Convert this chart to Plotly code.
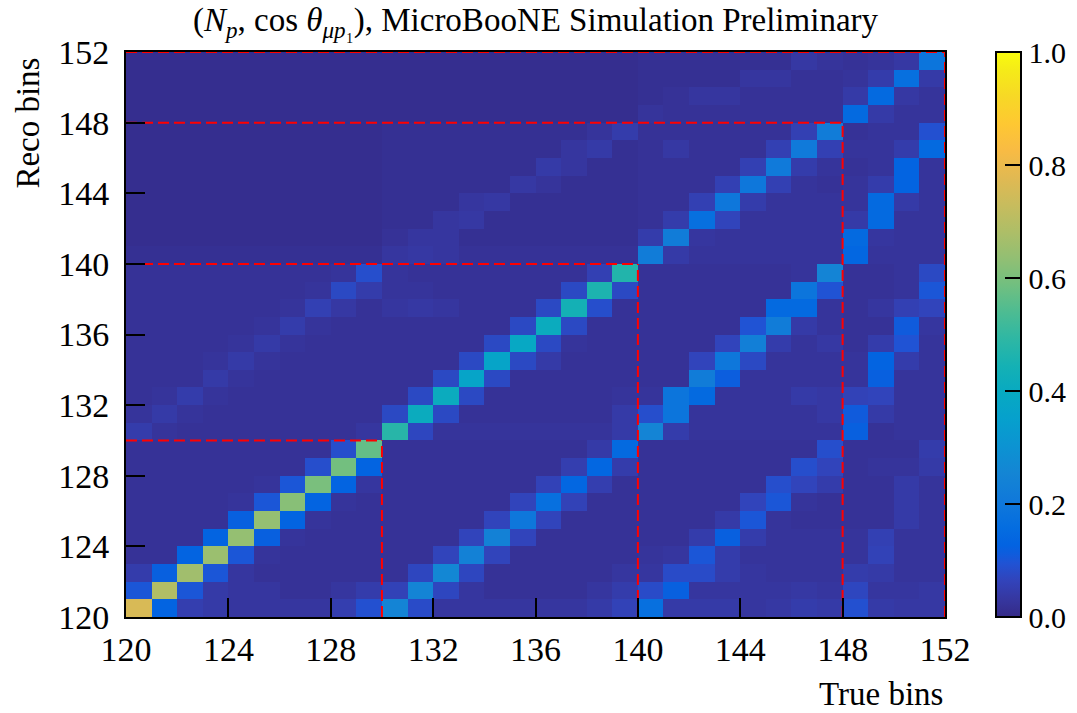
import plotly.graph_objects as go

# Bin edges along both axes (true and reco)
bin_edges = list(range(120, 153))
tick_values = list(range(120, 153, 4))
cbar_ticks = [0.0, 0.2, 0.4, 0.6, 0.8, 1.0]
cbar_labels = ["0.0", "0.2", "0.4", "0.6", "0.8", "1.0"]

# Block boundaries of the (N_p, cos theta) binning
block_edges = [130, 140, 148, 152]

# Migration matrix rows, grouped by reco block; each row lists true bins 120..151
reco_block1 = [  # reco bins 120-129
    [0.76, 0.13, 0.05, 0.04, 0.03, 0.03, 0.03, 0.03, 0.05, 0.09, 0.25, 0.08, 0.03, 0.03, 0.03, 0.03,
     0.03, 0.03, 0.04, 0.06, 0.17, 0.04, 0.04, 0.04, 0.03, 0.035, 0.045, 0.04, 0.09, 0.04, 0.035, 0.035],
    [0.10, 0.69, 0.10, 0.04, 0.03, 0.03, 0.02, 0.02, 0.03, 0.045, 0.06, 0.25, 0.07, 0.03, 0.02, 0.02,
     0.02, 0.02, 0.03, 0.045, 0.08, 0.12, 0.03, 0.03, 0.03, 0.03, 0.035, 0.03, 0.07, 0.03, 0.03, 0.035],
    [0.045, 0.12, 0.66, 0.10, 0.03, 0.02, 0.02, 0.02, 0.02, 0.02, 0.02, 0.07, 0.26, 0.07, 0.02, 0.02,
     0.02, 0.02, 0.02, 0.03, 0.03, 0.08, 0.08, 0.045, 0.03, 0.025, 0.025, 0.025, 0.045, 0.04, 0.025, 0.025],
    [0.02, 0.02, 0.13, 0.65, 0.10, 0.025, 0.02, 0.02, 0.02, 0.02, 0.02, 0.02, 0.065, 0.24, 0.065, 0.02,
     0.02, 0.02, 0.02, 0.02, 0.025, 0.03, 0.10, 0.045, 0.025, 0.025, 0.025, 0.025, 0.025, 0.06, 0.025, 0.025],
    [0.02, 0.02, 0.02, 0.13, 0.64, 0.12, 0.025, 0.02, 0.02, 0.02, 0.02, 0.02, 0.02, 0.065, 0.24, 0.065,
     0.02, 0.02, 0.02, 0.02, 0.02, 0.02, 0.045, 0.12, 0.045, 0.025, 0.025, 0.025, 0.025, 0.055, 0.025, 0.025],
    [0.02, 0.02, 0.02, 0.02, 0.12, 0.64, 0.13, 0.025, 0.02, 0.02, 0.02, 0.02, 0.02, 0.02, 0.065, 0.20,
     0.065, 0.02, 0.02, 0.02, 0.02, 0.02, 0.02, 0.04, 0.10, 0.025, 0.02, 0.02, 0.02, 0.02, 0.04, 0.025],
    [0.02, 0.02, 0.02, 0.02, 0.025, 0.10, 0.62, 0.13, 0.025, 0.02, 0.02, 0.02, 0.02, 0.02, 0.02, 0.065,
     0.17, 0.06, 0.02, 0.02, 0.02, 0.02, 0.02, 0.02, 0.065, 0.10, 0.025, 0.02, 0.02, 0.02, 0.04, 0.025],
    [0.02, 0.02, 0.02, 0.02, 0.02, 0.025, 0.10, 0.60, 0.13, 0.03, 0.02, 0.02, 0.02, 0.02, 0.02, 0.02,
     0.06, 0.14, 0.05, 0.02, 0.02, 0.02, 0.02, 0.02, 0.02, 0.085, 0.065, 0.045, 0.02, 0.02, 0.04, 0.025],
    [0.02, 0.02, 0.02, 0.02, 0.02, 0.02, 0.02, 0.085, 0.59, 0.13, 0.02, 0.02, 0.02, 0.02, 0.02, 0.02,
     0.02, 0.05, 0.14, 0.045, 0.02, 0.02, 0.02, 0.02, 0.02, 0.02, 0.085, 0.065, 0.02, 0.025, 0.025, 0.04],
    [0.02, 0.02, 0.02, 0.02, 0.02, 0.02, 0.02, 0.02, 0.085, 0.57, 0.02, 0.02, 0.02, 0.02, 0.02, 0.02,
     0.02, 0.02, 0.04, 0.15, 0.02, 0.02, 0.02, 0.02, 0.02, 0.02, 0.02, 0.085, 0.02, 0.02, 0.02, 0.045],
]

reco_block2 = [  # reco bins 130-139
    [0.045, 0.025, 0.02, 0.02, 0.02, 0.02, 0.02, 0.02, 0.02, 0.03, 0.48, 0.07, 0.025, 0.025, 0.025, 0.025,
     0.025, 0.025, 0.025, 0.04, 0.25, 0.045, 0.025, 0.025, 0.025, 0.025, 0.025, 0.025, 0.12, 0.02, 0.025, 0.025],
    [0.025, 0.04, 0.025, 0.02, 0.02, 0.02, 0.02, 0.02, 0.02, 0.02, 0.075, 0.41, 0.075, 0.02, 0.02, 0.02,
     0.02, 0.02, 0.02, 0.04, 0.085, 0.19, 0.025, 0.025, 0.025, 0.025, 0.025, 0.035, 0.11, 0.04, 0.025, 0.025],
    [0.02, 0.025, 0.045, 0.025, 0.02, 0.02, 0.02, 0.02, 0.02, 0.02, 0.02, 0.075, 0.41, 0.075, 0.02, 0.02,
     0.02, 0.02, 0.02, 0.025, 0.025, 0.19, 0.15, 0.025, 0.025, 0.025, 0.04, 0.035, 0.06, 0.065, 0.025, 0.025],
    [0.02, 0.02, 0.02, 0.04, 0.025, 0.02, 0.02, 0.02, 0.02, 0.02, 0.02, 0.02, 0.075, 0.37, 0.075, 0.02,
     0.02, 0.02, 0.02, 0.02, 0.02, 0.02, 0.22, 0.115, 0.025, 0.025, 0.025, 0.025, 0.025, 0.12, 0.025, 0.025],
    [0.02, 0.02, 0.02, 0.025, 0.04, 0.025, 0.02, 0.02, 0.02, 0.02, 0.02, 0.02, 0.02, 0.075, 0.37, 0.075,
     0.04, 0.02, 0.02, 0.02, 0.02, 0.02, 0.065, 0.20, 0.075, 0.025, 0.025, 0.025, 0.025, 0.13, 0.045, 0.025],
    [0.02, 0.02, 0.02, 0.02, 0.025, 0.04, 0.025, 0.02, 0.02, 0.02, 0.02, 0.02, 0.02, 0.02, 0.075, 0.39,
     0.075, 0.025, 0.02, 0.02, 0.02, 0.02, 0.02, 0.065, 0.23, 0.045, 0.025, 0.035, 0.02, 0.045, 0.095, 0.025],
    [0.02, 0.02, 0.02, 0.02, 0.02, 0.025, 0.045, 0.025, 0.02, 0.02, 0.02, 0.02, 0.02, 0.02, 0.02, 0.075,
     0.41, 0.075, 0.02, 0.02, 0.02, 0.02, 0.02, 0.02, 0.095, 0.22, 0.04, 0.025, 0.02, 0.02, 0.11, 0.03],
    [0.02, 0.02, 0.02, 0.02, 0.02, 0.02, 0.025, 0.055, 0.035, 0.02, 0.03, 0.035, 0.03, 0.02, 0.02, 0.02,
     0.075, 0.44, 0.085, 0.02, 0.02, 0.02, 0.02, 0.02, 0.02, 0.15, 0.15, 0.025, 0.02, 0.03, 0.055, 0.065],
    [0.02, 0.02, 0.02, 0.02, 0.02, 0.02, 0.02, 0.025, 0.075, 0.045, 0.025, 0.025, 0.02, 0.02, 0.02, 0.02,
     0.02, 0.075, 0.46, 0.075, 0.02, 0.02, 0.02, 0.02, 0.02, 0.02, 0.19, 0.095, 0.02, 0.02, 0.025, 0.10],
    [0.02, 0.02, 0.02, 0.02, 0.02, 0.02, 0.02, 0.02, 0.025, 0.085, 0.025, 0.02, 0.02, 0.02, 0.02, 0.02,
     0.02, 0.02, 0.055, 0.47, 0.02, 0.02, 0.02, 0.02, 0.02, 0.02, 0.025, 0.25, 0.02, 0.02, 0.025, 0.075],
]

reco_block3 = [  # reco bins 140-147
    [0.015, 0.015, 0.015, 0.015, 0.015, 0.015, 0.015, 0.015, 0.015, 0.015, 0.03, 0.035, 0.03, 0.02, 0.02, 0.02,
     0.02, 0.02, 0.02, 0.02, 0.22, 0.04, 0.025, 0.025, 0.025, 0.025, 0.025, 0.025, 0.14, 0.025, 0.025, 0.025],
    [0.01, 0.01, 0.01, 0.01, 0.01, 0.01, 0.01, 0.01, 0.01, 0.01, 0.02, 0.03, 0.03, 0.015, 0.015, 0.015,
     0.015, 0.015, 0.015, 0.015, 0.045, 0.22, 0.03, 0.025, 0.025, 0.025, 0.025, 0.025, 0.15, 0.03, 0.025, 0.025],
    [0.01, 0.01, 0.01, 0.01, 0.01, 0.01, 0.01, 0.01, 0.01, 0.01, 0.015, 0.015, 0.03, 0.035, 0.015, 0.015,
     0.015, 0.015, 0.015, 0.015, 0.02, 0.045, 0.17, 0.065, 0.025, 0.025, 0.025, 0.025, 0.04, 0.15, 0.025, 0.025],
    [0.01, 0.01, 0.01, 0.01, 0.01, 0.01, 0.01, 0.01, 0.01, 0.01, 0.015, 0.015, 0.015, 0.03, 0.035, 0.015,
     0.015, 0.015, 0.015, 0.015, 0.02, 0.02, 0.055, 0.20, 0.045, 0.025, 0.025, 0.025, 0.025, 0.15, 0.04, 0.025],
    [0.01, 0.01, 0.01, 0.01, 0.01, 0.01, 0.01, 0.01, 0.01, 0.01, 0.015, 0.015, 0.015, 0.015, 0.015, 0.035,
     0.025, 0.015, 0.015, 0.015, 0.02, 0.02, 0.02, 0.055, 0.20, 0.055, 0.025, 0.02, 0.025, 0.045, 0.13, 0.025],
    [0.01, 0.01, 0.01, 0.01, 0.01, 0.01, 0.01, 0.01, 0.01, 0.01, 0.015, 0.015, 0.015, 0.015, 0.015, 0.015,
     0.04, 0.03, 0.015, 0.015, 0.02, 0.02, 0.02, 0.02, 0.055, 0.21, 0.045, 0.025, 0.02, 0.025, 0.13, 0.025],
    [0.01, 0.01, 0.01, 0.01, 0.01, 0.01, 0.01, 0.01, 0.01, 0.01, 0.015, 0.015, 0.015, 0.015, 0.015, 0.015,
     0.015, 0.03, 0.04, 0.015, 0.02, 0.035, 0.02, 0.02, 0.02, 0.055, 0.21, 0.055, 0.025, 0.025, 0.045, 0.15],
    [0.01, 0.01, 0.01, 0.01, 0.01, 0.01, 0.01, 0.01, 0.01, 0.01, 0.015, 0.015, 0.015, 0.015, 0.015, 0.015,
     0.015, 0.015, 0.025, 0.045, 0.02, 0.02, 0.02, 0.02, 0.02, 0.02, 0.055, 0.22, 0.02, 0.025, 0.025, 0.09],
]

reco_block4 = [  # reco bins 148-151
    [0.01, 0.01, 0.01, 0.01, 0.01, 0.01, 0.01, 0.01, 0.01, 0.01, 0.01, 0.01, 0.01, 0.01, 0.01, 0.01,
     0.01, 0.01, 0.01, 0.01, 0.025, 0.02, 0.02, 0.02, 0.02, 0.02, 0.02, 0.02, 0.15, 0.04, 0.025, 0.025],
    [0.01, 0.01, 0.01, 0.01, 0.01, 0.01, 0.01, 0.01, 0.01, 0.01, 0.01, 0.01, 0.01, 0.01, 0.01, 0.01,
     0.01, 0.01, 0.01, 0.01, 0.015, 0.02, 0.03, 0.03, 0.02, 0.02, 0.02, 0.02, 0.04, 0.15, 0.035, 0.025],
    [0.01, 0.01, 0.01, 0.01, 0.01, 0.01, 0.01, 0.01, 0.01, 0.01, 0.01, 0.01, 0.01, 0.01, 0.01, 0.01,
     0.01, 0.01, 0.01, 0.01, 0.015, 0.015, 0.015, 0.015, 0.03, 0.03, 0.02, 0.02, 0.025, 0.045, 0.17, 0.04],
    [0.01, 0.01, 0.01, 0.01, 0.01, 0.01, 0.01, 0.01, 0.01, 0.01, 0.01, 0.01, 0.01, 0.01, 0.01, 0.01,
     0.01, 0.01, 0.01, 0.01, 0.015, 0.015, 0.015, 0.015, 0.015, 0.015, 0.035, 0.025, 0.02, 0.025, 0.035, 0.19],
]

matrix = reco_block1 + reco_block2 + reco_block3 + reco_block4

# Parula-style colour map
parula = [
    (0, (53, 42, 135)), (2, (54, 55, 160)), (4, (50, 67, 186)), (6, (32, 83, 212)),
    (7, (15, 92, 221)), (8, (3, 99, 225)), (10, (4, 109, 224)), (13, (16, 121, 218)),
    (16, (20, 133, 212)), (19, (12, 147, 210)), (22, (6, 160, 205)), (25, (7, 169, 194)),
    (28, (21, 177, 180)), (31, (46, 183, 164)), (34, (77, 188, 146)), (37, (113, 191, 128)),
    (40, (146, 191, 115)), (43, (174, 190, 103)), (46, (200, 188, 93)), (49, (225, 185, 82)),
    (52, (248, 187, 68)), (55, (254, 200, 50)), (58, (247, 216, 38)), (61, (245, 235, 24)),
    (63, (249, 251, 14)),
]
colorscale = [[i / 63, "rgb(%d,%d,%d)" % c] for i, c in parula]

FONT = "Liberation Serif"

fig = go.Figure()
fig.add_trace(go.Heatmap(
    z=matrix, x=bin_edges, y=bin_edges,
    colorscale=colorscale, zmin=0, zmax=1,
    colorbar=dict(
        x=1.0623, xanchor="left", xref="paper", xpad=0, ypad=0,
        y=0.5, yanchor="middle", len=1, lenmode="fraction",
        thickness=25, thicknessmode="pixels",
        outlinewidth=2, outlinecolor="black",
        ticks="inside", ticklen=17, tickwidth=1.5, tickcolor="black",
        tickvals=cbar_ticks, ticktext=cbar_labels,
        tickfont=dict(family=FONT, size=30, color="black"),
    ),
    hoverinfo="skip",
))

# Dashed red block boundaries
lo = bin_edges[0]
for e in block_edges:
    for xs, ys in (([lo, e], [e, e]), ([e, e], [lo, e])):
        fig.add_trace(go.Scatter(
            x=xs, y=ys, mode="lines",
            line=dict(color="red", width=2, dash="11px,5px"),
            showlegend=False, hoverinfo="skip", cliponaxis=False,
        ))

axis_common = dict(
    range=[120, 152], tickvals=tick_values,
    ticks="inside", ticklen=19, tickwidth=1.5, tickcolor="black",
    showline=True, linewidth=2, linecolor="black", mirror=True,
    showgrid=False, zeroline=False,
    tickfont=dict(family=FONT, size=34, color="black"),
)

fig.update_layout(
    width=1077, height=713,
    margin=dict(l=126, r=132, t=52, b=96, autoexpand=False),
    paper_bgcolor="white", plot_bgcolor="white",
    xaxis=dict(**axis_common, ticklabelstandoff=1),
    yaxis=dict(**axis_common, ticklabelstandoff=8),
    showlegend=False,
    annotations=[
        dict(text="(<i>N</i><sub><i>p</i></sub>, cos <i>θ</i><sub><i>μp</i>₁</sub>), MicroBooNE Simulation Preliminary",
             x=0.5, y=1.052, xref="paper", yref="paper", xanchor="center", yanchor="middle",
             showarrow=False, font=dict(family=FONT, size=33, color="black")),
        dict(text="Reco bins", x=-0.12, y=0.994, xref="paper", yref="paper",
             xanchor="center", yanchor="top", textangle=-90,
             showarrow=False, font=dict(family=FONT, size=33, color="black")),
        dict(text="True bins", x=1.0, y=-0.136, xref="paper", yref="paper",
             xanchor="right", yanchor="middle",
             showarrow=False, font=dict(family=FONT, size=33, color="black")),
    ],
)

fig.write_html("out.html")
